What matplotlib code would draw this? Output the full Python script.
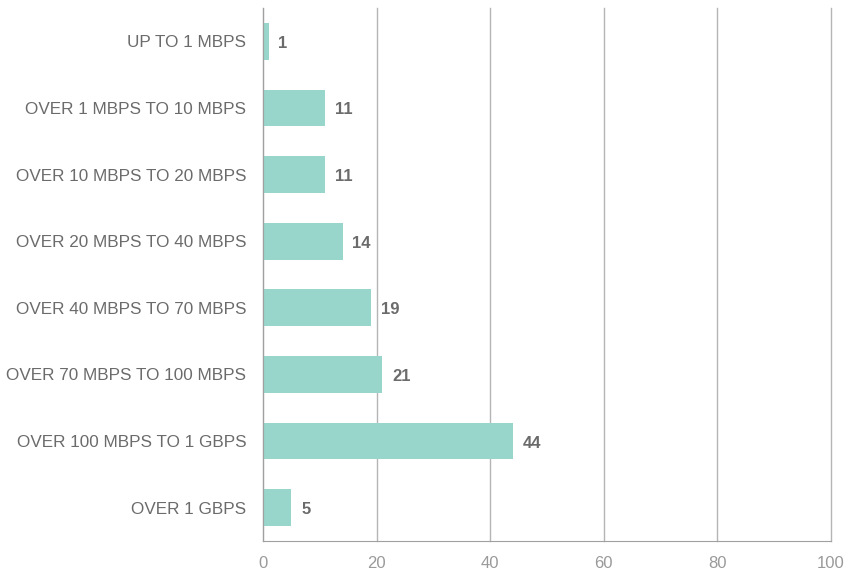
import matplotlib
matplotlib.use("Agg")
import matplotlib.pyplot as plt

categories = [
    "UP TO 1 MBPS",
    "OVER 1 MBPS TO 10 MBPS",
    "OVER 10 MBPS TO 20 MBPS",
    "OVER 20 MBPS TO 40 MBPS",
    "OVER 40 MBPS TO 70 MBPS",
    "OVER 70 MBPS TO 100 MBPS",
    "OVER 100 MBPS TO 1 GBPS",
    "OVER 1 GBPS",
]
values = [1, 11, 11, 14, 19, 21, 44, 5]
x_ticks = [0, 20, 40, 60, 80, 100]

bar_color = "#98d5ca"
label_color = "#6b6b6b"
tick_color = "#9a9a9a"
grid_color = "#b5b5b5"

plt.rcParams["font.family"] = ["Liberation Sans", "DejaVu Sans"]

fig = plt.figure(figsize=(8.48, 5.72), dpi=100)
ax = fig.add_axes([263 / 848, 1 - 541 / 572, (831 - 263) / 848, (541 - 8) / 572])

y = list(range(len(categories)))
ax.barh(y, values, height=0.55, color=bar_color, zorder=3)
ax.set_ylim(len(categories) - 0.5, -0.5)
ax.set_xlim(0, 100)

for yi, v in zip(y, values):
    ax.text(v + 1.7, yi + 0.03, f"{v}", va="center", ha="left",
            fontsize=12, fontweight="bold", color=label_color, zorder=4)

ax.set_yticks(y)
ax.set_yticklabels(categories, fontsize=12.3, color=label_color)
ax.set_xticks(x_ticks)
ax.set_xticklabels([str(t) for t in x_ticks], fontsize=12, color=tick_color)
ax.tick_params(axis="y", length=0, pad=12)
ax.tick_params(axis="x", length=0, pad=11)

ax.xaxis.grid(True, color=grid_color, linewidth=1, zorder=0)
ax.yaxis.grid(False)
for gl in ax.get_xgridlines():
    gl.set_clip_on(False)
for side in ["top", "right"]:
    ax.spines[side].set_visible(False)
ax.spines["left"].set_color("#a0a0a0")
ax.spines["bottom"].set_color("#a0a0a0")
ax.spines["left"].set_zorder(5)

fig.savefig("out.png", dpi=100, facecolor="white")
